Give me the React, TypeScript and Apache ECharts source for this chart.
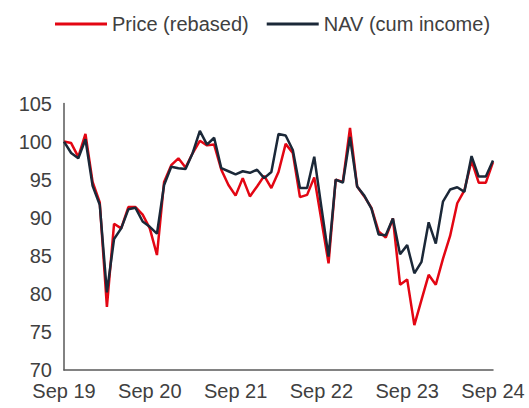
import React, { useEffect, useRef } from "react";
import * as echarts from "echarts";

const monthNames = ["Jan", "Feb", "Mar", "Apr", "May", "Jun", "Jul", "Aug", "Sep", "Oct", "Nov", "Dec"];
// Monthly from Sep 19 to Sep 24
const categories: string[] = [];
for (let k = 0; k <= 60; k++) {
  const m = (8 + k) % 12;
  const y = 19 + Math.floor((8 + k) / 12);
  categories.push(`${monthNames[m]} ${y}`);
}

const priceRebased = [
  100.0, 99.8, 98.0, 101.0, 94.7, 92.0, 78.3, 89.2, 88.6, 91.4,
  91.4, 90.4, 88.6, 85.1, 94.7, 96.9, 97.8, 96.6, 98.5, 100.1,
  99.5, 99.6, 96.3, 94.3, 92.9, 95.2, 92.8, 94.1, 95.5, 93.9,
  96.0, 99.7, 98.5, 92.7, 93.0, 95.3, 89.7, 84.0, 95.0, 94.7,
  101.8, 94.1, 92.8, 91.3, 88.2, 87.4, 89.9, 81.2, 81.9, 75.9,
  79.2, 82.5, 81.2, 84.6, 87.6, 91.9, 93.6, 97.5, 94.6, 94.6,
  97.3,
];

const navCumIncome = [
  100.0, 98.5, 97.8, 100.3, 94.2, 91.7, 80.2, 87.2, 88.6, 91.1,
  91.3, 89.5, 88.8, 87.9, 94.3, 96.7, 96.5, 96.4, 98.5, 101.4,
  99.6, 100.5, 96.5, 96.1, 95.7, 96.1, 95.9, 96.3, 95.2, 96.0,
  101.0, 100.8, 98.9, 93.9, 93.9, 98.0, 91.4, 84.9, 95.0, 94.6,
  100.6, 94.1, 92.9, 91.2, 87.8, 87.7, 89.9, 85.2, 86.4, 82.7,
  84.2, 89.4, 86.6, 92.1, 93.7, 94.0, 93.4, 98.1, 95.4, 95.4,
  97.5,
];

const seriesNames = ["Price (rebased)", "NAV (cum income)"];
const seriesColors = ["#E30613", "#1B2838"];

export default function App() {
  const ref = useRef<HTMLDivElement>(null);
  useEffect(() => {
    if (!ref.current) return;
    const chart = echarts.init(ref.current, undefined, { renderer: "svg" });
    const font = "'Liberation Sans', Arial, sans-serif";
    const textColor = "#404040";
    chart.setOption({
      animation: false,
      backgroundColor: "#ffffff",
      legend: {
        top: 9,
        left: 50,
        itemWidth: 52,
        itemHeight: 3,
        itemGap: 18,
        icon: "rect",
        textStyle: { fontFamily: font, fontSize: 20, color: textColor },
        data: seriesNames.map((n, i) => ({ name: n, icon: "rect", itemStyle: { color: seriesColors[i] } })),
      },
      grid: { left: 64, right: 36, top: 103.5, bottom: 38 },
      xAxis: {
        type: "category",
        data: categories,
        boundaryGap: false,
        axisLine: { lineStyle: { color: "#595959", width: 1.5 } },
        axisTick: { show: false },
        axisLabel: {
          interval: 11,
          margin: 11,
          fontFamily: font,
          fontSize: 20,
          color: textColor,
        },
        splitLine: { show: false },
      },
      yAxis: {
        type: "value",
        min: 70,
        max: 105,
        interval: 5,
        axisLine: { show: true, lineStyle: { color: "#595959", width: 1.5 } },
        axisTick: { show: false },
        axisLabel: { margin: 12, fontFamily: font, fontSize: 20, color: textColor },
        splitLine: { show: false },
      },
      series: [
        {
          name: seriesNames[0],
          type: "line",
          data: priceRebased,
          symbol: "none",
          lineStyle: { color: seriesColors[0], width: 2.5 },
          itemStyle: { color: seriesColors[0] },
        },
        {
          name: seriesNames[1],
          type: "line",
          data: navCumIncome,
          symbol: "none",
          lineStyle: { color: seriesColors[1], width: 2.5 },
          itemStyle: { color: seriesColors[1] },
        },
      ],
    });
    return () => chart.dispose();
  }, []);
  return (
    <div
      ref={ref}
      style={{ position: "fixed", left: 0, top: 0, width: 529, height: 408 }}
    />
  );
}
